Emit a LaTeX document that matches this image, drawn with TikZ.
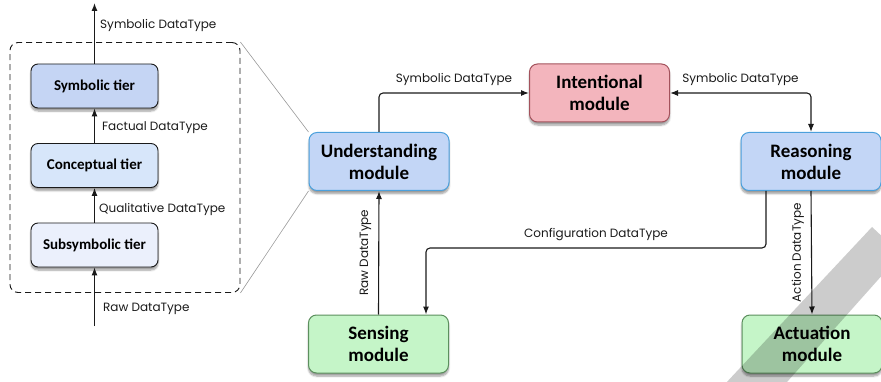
\documentclass[tikz,border=0pt]{standalone}
\usepackage{fontspec}
\setmainfont{Carlito}
\newfontfamily\lblfont{Poppins}
\usepackage{tikz}
\usetikzlibrary{arrows.meta,calc,positioning,shadows.blur}
\definecolor{ink}{HTML}{1A1A1A}
\definecolor{tiersym}{HTML}{C5D5F4}
\definecolor{tiercon}{HTML}{D7E6FA}
\definecolor{tiersub}{HTML}{EBF0FC}
\definecolor{modblue}{HTML}{C3D6F6}
\definecolor{modblueline}{HTML}{4BA0DC}
\definecolor{modpink}{HTML}{F3B5BD}
\definecolor{modpinkline}{HTML}{A3525C}
\definecolor{modgreen}{HTML}{C5F5C8}
\definecolor{modgreenline}{HTML}{5C8F5E}

\begin{document}
\begin{tikzpicture}[x=1pt,y=-1pt,>={Latex[length=8pt,width=6pt]},
 tier/.style={draw=ink,line width=0.9pt,rounded corners=7pt,minimum width=127pt,minimum height=44pt,font=\fontsize{15}{17}\selectfont\bfseries,blur shadow={shadow xshift=0pt,shadow yshift=-3pt,shadow blur steps=6}},
 module/.style={line width=1pt,rounded corners=8pt,minimum width=140pt,minimum height=58pt,align=center,font=\fontsize{19}{22}\selectfont\bfseries,blur shadow={shadow xshift=0pt,shadow yshift=-3pt,shadow blur steps=6}},
 link/.style={->,line width=1.1pt,draw=ink,rounded corners=4pt},
 lbl/.style={font=\lblfont\fontsize{12}{14}\selectfont,text=ink,inner sep=0pt}]
\useasboundingbox (0,0) rectangle (881,382);
% the zoomed-in frame with the three tiers
\node[draw=ink,line width=0.9pt,dashed,dash pattern=on 6pt off 4pt,rounded corners=8pt,minimum width=230pt,minimum height=250pt] (zoom) at (125,167.5) {};
\node[tier,fill=tiersym] (symb) at (94.5,86) {Symbolic tier};
\node[tier,fill=tiercon] (conc) at (94.5,165.5) {Conceptual tier};
\node[tier,fill=tiersub] (subs) at (94.5,245) {Subsymbolic tier};
\coordinate (rawin) at (94.5,326);
\coordinate (symout) at (94.5,3);
\draw[link] (rawin) -- (subs.south);
\draw[link] (subs.north) -- (conc.south);
\draw[link] (conc.north) -- (symb.south);
\draw[link] (symb.north) -- (symout);
\node[lbl,anchor=west] at (103,309) {Raw DataType};
\node[lbl,anchor=west] at (99,209) {Qualitative DataType};
\node[lbl,anchor=west] at (102,128) {Factual DataType};
\node[lbl,anchor=west] at (100,25) {Symbolic DataType};
% modules
\node[module,fill=modblue,draw=modblueline] (und) at (379,161.5) {Understanding\\module};
\node[module,fill=modpink,draw=modpinkline] (int) at (599.5,93) {Intentional\\module};
\node[module,fill=modblue,draw=modblueline] (rea) at (811,161.5) {Reasoning\\module};
\node[module,fill=modgreen,draw=modgreenline] (sen) at (378.5,344) {Sensing\\module};
\node[module,fill=modgreen,draw=modgreenline] (act) at (812,344) {Actuation\\module};
\draw[gray!80,line width=0.6pt] (zoom.north east) -- (und.north west);
\draw[gray!80,line width=0.6pt] (zoom.south east) -- (und.south west);
% connectors between modules
\draw[link] (und.north) |- (int.west) node[lbl,pos=0.75,above=7pt] {Symbolic DataType};
\draw[link,<->] (int.east) -| (rea.north) node[lbl,pos=0.25,above=7pt] {Symbolic DataType};
\draw[link] (sen.north) -- (und.south) node[lbl,midway,rotate=90,anchor=south,yshift=7pt] {Raw DataType};
\draw[link] (rea.south) -- (act.north) node[lbl,midway,rotate=90,anchor=south,yshift=7pt] {Action DataType};
\draw[link] ($(rea.south)+(-45,0)$) -- ++(0,57) -| ($(sen.north)+(47.5,0)$) node[lbl,pos=0.25,above=7pt] {Configuration DataType};
% watermark band
\begin{scope}
\clip (0,0) rectangle (881,382);
\fill[black,fill opacity=0.2] (872,227) -- (901,254) -- (771,400) -- (710,400) -- cycle;
\end{scope}
\end{tikzpicture}
\end{document}
